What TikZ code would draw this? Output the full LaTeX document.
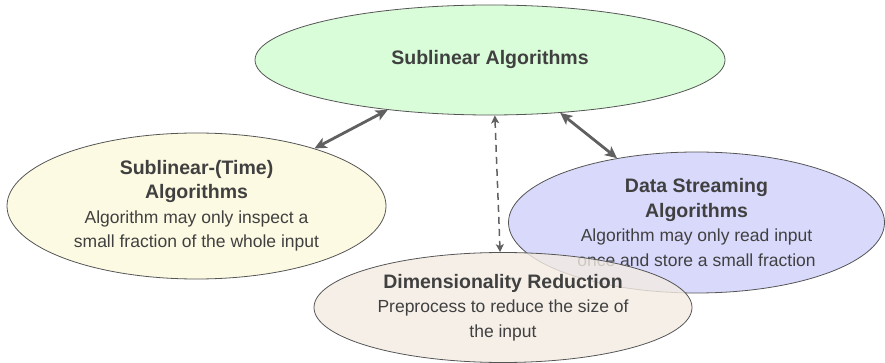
\documentclass[tikz,border=0pt]{standalone}
\usepackage{fontspec}
\setmainfont{Liberation Sans}
\usetikzlibrary{shapes.geometric,arrows.meta}
\definecolor{txt}{HTML}{404040}
\definecolor{edge}{HTML}{555555}
\definecolor{arr}{HTML}{606060}
\definecolor{gfill}{HTML}{D9FCD9}
\definecolor{yfill}{HTML}{FDFAE3}
\definecolor{bfill}{HTML}{D9D9FC}
\definecolor{efill}{HTML}{F3EBE2}
\tikzset{
  bubble/.style={ellipse, draw=edge, line width=0.8pt, inner sep=0pt, align=center,
    text=txt, font=\fontsize{17.5}{24.5}\selectfont},
  heavy/.style={draw=arr, line width=2.8pt, {Stealth[length=12pt,width=11pt,inset=3pt]}-{Stealth[length=12pt,width=11pt,inset=3pt]}},
  light/.style={draw=arr, line width=1.5pt, dash pattern=on 7pt off 5pt, {Stealth[length=8pt,width=8pt,inset=2pt]}-{Stealth[length=8pt,width=8pt,inset=2pt]}}
}
\newcommand{\hd}[1]{{\bfseries\fontsize{19.5}{24.5}\selectfont #1}}
\begin{document}
\begin{tikzpicture}[x=1pt,y=-1pt]
\useasboundingbox (0,0) rectangle (885,363);
\node[bubble, fill=gfill, minimum width=470pt, minimum height=110pt] (main) at (490,60) {\hd{Sublinear Algorithms}};
\node[bubble, fill=yfill, minimum width=379pt, minimum height=146pt] (time) at (196.5,206) {\hd{Sublinear-(Time)}\\\hd{Algorithms}\\Algorithm may only inspect a\\small fraction of the whole input};
\node[bubble, fill=bfill, minimum width=376pt, minimum height=141pt] (stream) at (696.5,222.5) {\hd{Data Streaming}\\\hd{Algorithms}\\Algorithm may only read input\\once and store a small fraction};
\node[bubble, fill=efill, fill opacity=0.8, text opacity=1, minimum width=378pt, minimum height=110pt] (dim) at (503,307.5) {\hd{Dimensionality Reduction}\\Preprocess to reduce the size of\\the input};
\draw[heavy] (time.26.5) -- (main.206.6);
\draw[heavy] (main.-37.6) -- (stream.141.2);
\draw[light] (main.-85) -- (dim.93);
\end{tikzpicture}
\end{document}
